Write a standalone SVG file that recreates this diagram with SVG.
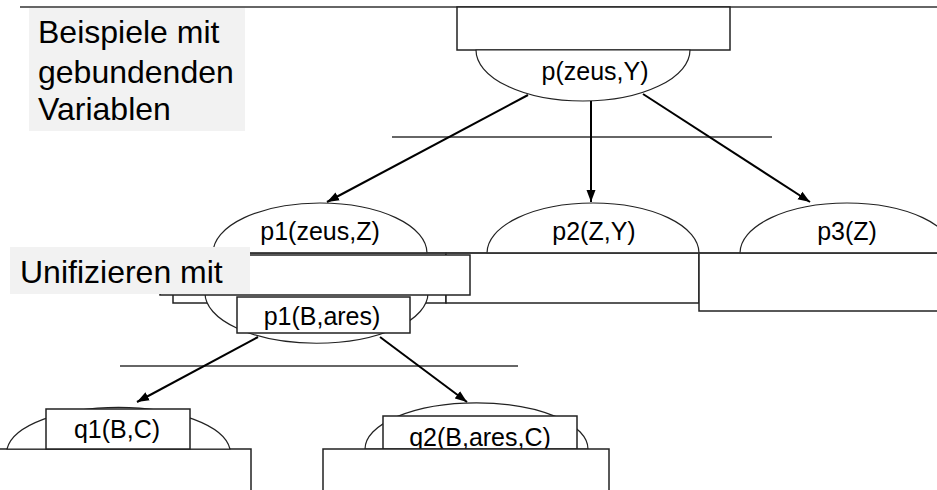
<svg xmlns="http://www.w3.org/2000/svg" width="937" height="490" viewBox="0 0 937 490">
  <style>
    .lbl { font-family: "Liberation Sans", Arial, sans-serif; font-size: 25px; fill: #000; text-anchor: middle; }
    .big { font-family: "Liberation Sans", Arial, sans-serif; font-size: 32px; fill: #000; }
    .box { fill: #fff; stroke: #222; stroke-width: 1.5; }
    .oval { fill: #fff; stroke: #222; stroke-width: 1.2; }
    .note { fill: #f2f2f2; stroke: none; }
    .rule { stroke: #333; stroke-width: 1.3; fill: none; }
    .edge { stroke: #000; stroke-width: 2; fill: none; marker-end: url(#arrow); }
  </style>
  <defs>
    <marker id="arrow" markerUnits="userSpaceOnUse" markerWidth="14" markerHeight="10" refX="12" refY="5" orient="auto">
      <path d="M0,0.5 L12,5 L0,9.5 Z" fill="#000"/>
    </marker>
  </defs>

  <rect width="937" height="490" fill="#fff"/>

  <!-- top border and separators -->
  <line class="rule" x1="20" y1="7" x2="937" y2="7"/>
  <line class="rule" x1="392" y1="137" x2="772" y2="137"/>
  <line class="rule" x1="120" y1="366" x2="518" y2="366"/>

  <!-- root goal -->
  <g id="root">
    <rect class="box" x="457" y="7" width="273" height="43"/>
    <path class="oval" d="M476,50 A107,51 0 0 0 690,50 Z"/>
    <text class="lbl" x="595" y="80">p(zeus,Y)</text>
  </g>

  <!-- second level -->
  <g id="p1-box">
    <rect class="box" x="173" y="253" width="273" height="50"/>
  </g>
  <g id="p2">
    <rect class="box" x="446" y="253" width="253" height="50"/>
    <path class="oval" d="M487,253 A106,50 0 0 1 699,253 Z"/>
    <text class="lbl" x="594" y="240">p2(Z,Y)</text>
  </g>
  <g id="p3">
    <rect class="box" x="699" y="253" width="240" height="58"/>
    <path class="oval" d="M740,253 A107,50 0 0 1 954,253 Z"/>
    <text class="lbl" x="847" y="240">p3(Z)</text>
  </g>
  <g id="p1">
    <path class="oval" d="M213,253 A107,50 0 0 1 427,253 Z"/>
    <text class="lbl" x="320" y="240">p1(zeus,Z)</text>
  </g>
  <line class="rule" x1="173" y1="253" x2="937" y2="253"/>

  <!-- unified clause head -->
  <g id="p1-clause">
    <path class="oval" d="M205,293 A111,50 0 0 0 428,293 Z"/>
    <rect class="box" x="237" y="297" width="173" height="36"/>
    <text class="lbl" x="322" y="325">p1(B,ares)</text>
  </g>
  <g id="unify">
    <rect class="box" x="160" y="255" width="310" height="40"/>
    <rect class="note" x="10" y="247" width="240" height="47"/>
    <text class="big" x="20" y="283">Unifizieren mit</text>
  </g>

  <!-- third level -->
  <g id="q1">
    <rect class="box" x="-2" y="449" width="253" height="50"/>
    <path class="oval" d="M7,449 A112,46 0 0 1 230,449 Z"/>
    <rect class="box" x="46" y="409" width="144" height="40"/>
    <text class="lbl" x="117" y="438">q1(B,C)</text>
  </g>
  <g id="q2">
    <path class="oval" d="M365,449 A111,46 0 0 1 588,449 Z"/>
    <rect class="box" x="383" y="416" width="194" height="33"/>
    <text class="lbl" x="480" y="446">q2(B,ares,C)</text>
    <rect class="box" x="323" y="449" width="286" height="50"/>
  </g>

  <!-- heading -->
  <g id="heading">
    <rect class="note" x="29" y="8" width="216" height="123"/>
    <text class="big" x="38" y="43">Beispiele mit</text>
    <text class="big" x="38" y="83">gebundenden</text>
    <text class="big" x="38" y="120">Variablen</text>
  </g>

  <!-- connectors -->
  <g id="edges">
    <line class="edge" x1="528" y1="95" x2="327" y2="202"/>
    <line class="edge" x1="591" y1="101" x2="591" y2="202"/>
    <line class="edge" x1="643" y1="94" x2="810" y2="202"/>
    <line class="edge" x1="258" y1="337" x2="137" y2="402"/>
    <line class="edge" x1="380" y1="337" x2="467" y2="402"/>
  </g>
</svg>
